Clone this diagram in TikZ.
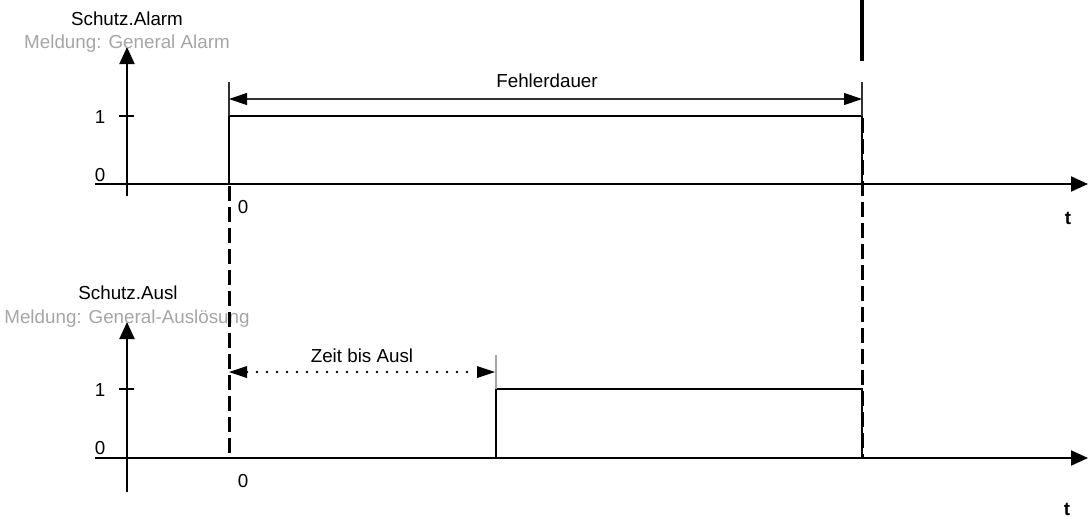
\documentclass[tikz,border=0pt]{standalone}
\usepackage{fontspec}
\setmainfont{Liberation Sans}
\usetikzlibrary{arrows.meta}
\definecolor{lgray}{RGB}{165,165,165}
\definecolor{dimgray}{RGB}{50,50,50}
\begin{document}
\begin{tikzpicture}[x=1pt,y=-1pt,
  lbl/.style={anchor=base,inner sep=0pt,font=\fontsize{18.8}{22}\selectfont},
  sublbl/.style={lbl,text=lgray},
  tlbl/.style={lbl,font=\fontsize{18.8}{22}\selectfont\bfseries},
  axis/.style={line width=2pt,-{Triangle[length=17pt,width=15pt]}},
  tick/.style={line width=1.6pt},
  signal/.style={line width=1.8pt},
  extline/.style={line width=1.3pt,dimgray},
  dimarrow/.style={line width=1.2pt,dimgray,{Triangle[length=18pt,width=12pt,color=black]}-{Triangle[length=18pt,width=12pt,color=black]}},
  dotarrow/.style={line width=2.6pt,line cap=round,dash pattern=on 0pt off 10pt,{Triangle[length=18pt,width=12pt,line width=0pt]}-{Triangle[length=18pt,width=12pt,line width=0pt]}},
  marker/.style={line width=3pt,dash pattern=on 15pt off 6pt},
  bar/.style={line width=4.5pt}]
\useasboundingbox (0,0) rectangle (1088,517);

% ---------- top chart ----------
\coordinate (ya1) at (127,196);
\coordinate (yb1) at (127,47);
\coordinate (xa1) at (95,184);
\coordinate (xb1) at (1088,184);
\coordinate (t1a) at (119,116);
\coordinate (t1b) at (134,116);
\coordinate (s1a) at (229,184);
\coordinate (s1b) at (229,116);
\coordinate (s1c) at (862,116);
\coordinate (s1d) at (862,184);
\coordinate (e1a) at (229,82);
\coordinate (e1b) at (862,82);
\coordinate (f1a) at (229,99);
\coordinate (f1b) at (862,99);
\coordinate (bar1) at (862,0);
\coordinate (bar2) at (862,61);

\draw[bar] (bar1) -- (bar2);
\draw[axis] (ya1) -- (yb1);
\draw[axis] (xa1) -- (xb1);
\draw[tick] (t1a) -- (t1b);
\draw[signal] (s1a) -- (s1b) -- (s1c) -- (s1d);
\draw[extline] (s1b) -- (e1a);
\draw[extline] (s1c) -- (e1b);
\draw[dimarrow] (f1a) -- (f1b);

\node[lbl] (n1) at (127,25) {Schutz.Alarm};
\node[sublbl] (n2) at (127,48) {Meldung: General Alarm};
\node[lbl] (n3) at (100,123) {1};
\node[lbl] (n4) at (100,181) {0};
\node[lbl] (n5) at (243,213) {0};
\node[tlbl] (n6) at (1068,224) {t};
\node[lbl] (n7) at (547,87) {Fehlerdauer};

% ---------- bottom chart ----------
\coordinate (ya2) at (127,492);
\coordinate (yb2) at (127,322);
\coordinate (xa2) at (95,458);
\coordinate (xb2) at (1088,458);
\coordinate (t2a) at (119,389);
\coordinate (t2b) at (134,389);
\coordinate (s2a) at (496,458);
\coordinate (s2b) at (496,389);
\coordinate (s2c) at (862,389);
\coordinate (s2d) at (862,458);
\coordinate (e2a) at (496,355);
\coordinate (z2a) at (229,372);
\coordinate (z2b) at (495,372);

\draw[axis] (ya2) -- (yb2);
\draw[axis] (xa2) -- (xb2);
\draw[tick] (t2a) -- (t2b);
\draw[signal] (s2a) -- (s2b) -- (s2c) -- (s2d);
\draw[extline,lgray] (s2b) -- (e2a);
\draw[dotarrow] (z2a) -- (z2b);

\node[lbl] (m1) at (128,299) {Schutz.Ausl};
\node[sublbl] (m2) at (127,323) {Meldung: General-Auslösung};
\node[lbl] (m3) at (100,396) {1};
\node[lbl] (m4) at (100,454) {0};
\node[lbl] (m5) at (243,487) {0};
\node[tlbl] (m6) at (1067,515) {t};
\node[lbl] (m7) at (362,362) {Zeit bis Ausl};

% ---------- dashed markers ----------
\coordinate (d1a) at (229,186);
\coordinate (d1b) at (229,458);
\coordinate (d2a) at (862,118);
\coordinate (d2b) at (862,458);
\draw[marker] (d1a) -- (d1b);
\draw[marker] (d2a) -- (d2b);
\end{tikzpicture}
\end{document}
